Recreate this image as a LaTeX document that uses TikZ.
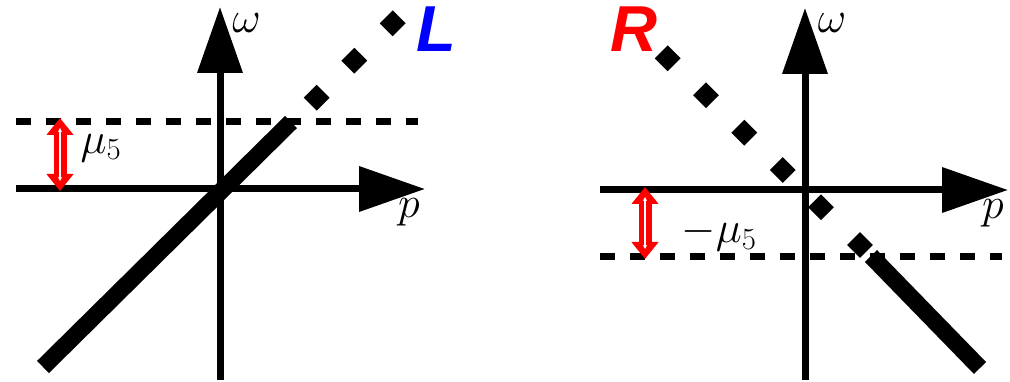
\RequirePackage{fix-cm}
\documentclass[tikz,border=0pt]{standalone}
\usepackage{fontspec}
\newfontfamily\lrfont{Liberation Sans}
\usetikzlibrary{arrows.meta,shapes.geometric}
\begin{document}
\begin{tikzpicture}[x=1pt,y=-1pt,
  axis/.style={line width=7pt,-{Triangle[length=66pt,width=44pt]}},
  level/.style={line width=7pt,dash pattern=on 15pt off 15pt},
  branch/.style={line width=17pt},
  dot/.style={diamond,fill=black,inner sep=0pt,minimum width=26pt,minimum height=26pt},
  shiftarrow/.style={red,line width=13pt,{Triangle[length=17pt,width=26pt]}-{Triangle[length=17pt,width=26pt]}},
  shiftcore/.style={white,line width=1.3pt,{Stealth[length=4pt,width=4pt]}-{Stealth[length=4pt,width=4pt]}},
  mathlbl/.style={inner sep=0pt,font=\fontsize{44}{48}\selectfont},
  chir/.style={inner sep=0pt,font=\fontsize{65}{70}\selectfont\lrfont\bfseries\itshape}]
\useasboundingbox (0,0) rectangle (1010,382);

% ---------- left-handed branch ----------
\coordinate (lx0) at (16,189);
\coordinate (lx1) at (425,189);
\coordinate (ly0) at (220,380);
\coordinate (ly1) at (220,7);
\coordinate (ld0) at (16,122);
\coordinate (ld1) at (418,122);
\coordinate (lb0) at (43,367);
\coordinate (lb1) at (291,122);
\draw[level] (ld0) -- (ld1);
\draw[axis] (lx0) -- (lx1);
\draw[axis] (ly0) -- (ly1);
\draw[branch] (lb0) -- (lb1);
\node[dot] (l1) at (316.7,97.7) {};
\node[dot] (l2) at (354.3,60.7) {};
\node[dot] (l3) at (392.7,23.3) {};
\node[mathlbl] (lw) at (246.5,23) {$\omega$};
\node[mathlbl] (lp) at (409,212) {$p$};
\node[mathlbl] (lmu) at (101,148) {$\mu_5$};
\node[chir,text=blue] (lL) at (436,29) {L};
\coordinate (la0) at (60,118);
\coordinate (la1) at (60,191);
\coordinate (lc0) at (60,128);
\coordinate (lc1) at (60,181);
\draw[shiftarrow] (la0) -- (la1);
\draw[shiftcore] (lc0) -- (lc1);

% ---------- right-handed branch ----------
\coordinate (rx0) at (600,190);
\coordinate (rx1) at (1008,190);
\coordinate (ry0) at (805,380);
\coordinate (ry1) at (805,8);
\coordinate (rd0) at (600,257);
\coordinate (rd1) at (1002,257);
\coordinate (rb0) at (871,256);
\coordinate (rb1) at (980,368);
\draw[level] (rd0) -- (rd1);
\draw[axis] (rx0) -- (rx1);
\draw[axis] (ry0) -- (ry1);
\draw[branch] (rb0) -- (rb1);
\node[dot] (r1) at (667.7,58.3) {};
\node[dot] (r2) at (706,95.3) {};
\node[dot] (r3) at (744.3,132.7) {};
\node[dot] (r4) at (782.7,170) {};
\node[dot] (r5) at (821,207.3) {};
\node[dot] (r6) at (860,245) {};
\node[mathlbl] (rw) at (832,23) {$\omega$};
\node[mathlbl] (rp) at (993,213) {$p$};
\node[mathlbl] (rmu) at (719,234) {$-\mu_5$};
\node[chir,text=red] (rR) at (634,29) {R};
\coordinate (ra0) at (645,187);
\coordinate (ra1) at (645,259);
\coordinate (rc0) at (645,197);
\coordinate (rc1) at (645,249);
\draw[shiftarrow] (ra0) -- (ra1);
\draw[shiftcore] (rc0) -- (rc1);
\end{tikzpicture}
\end{document}
